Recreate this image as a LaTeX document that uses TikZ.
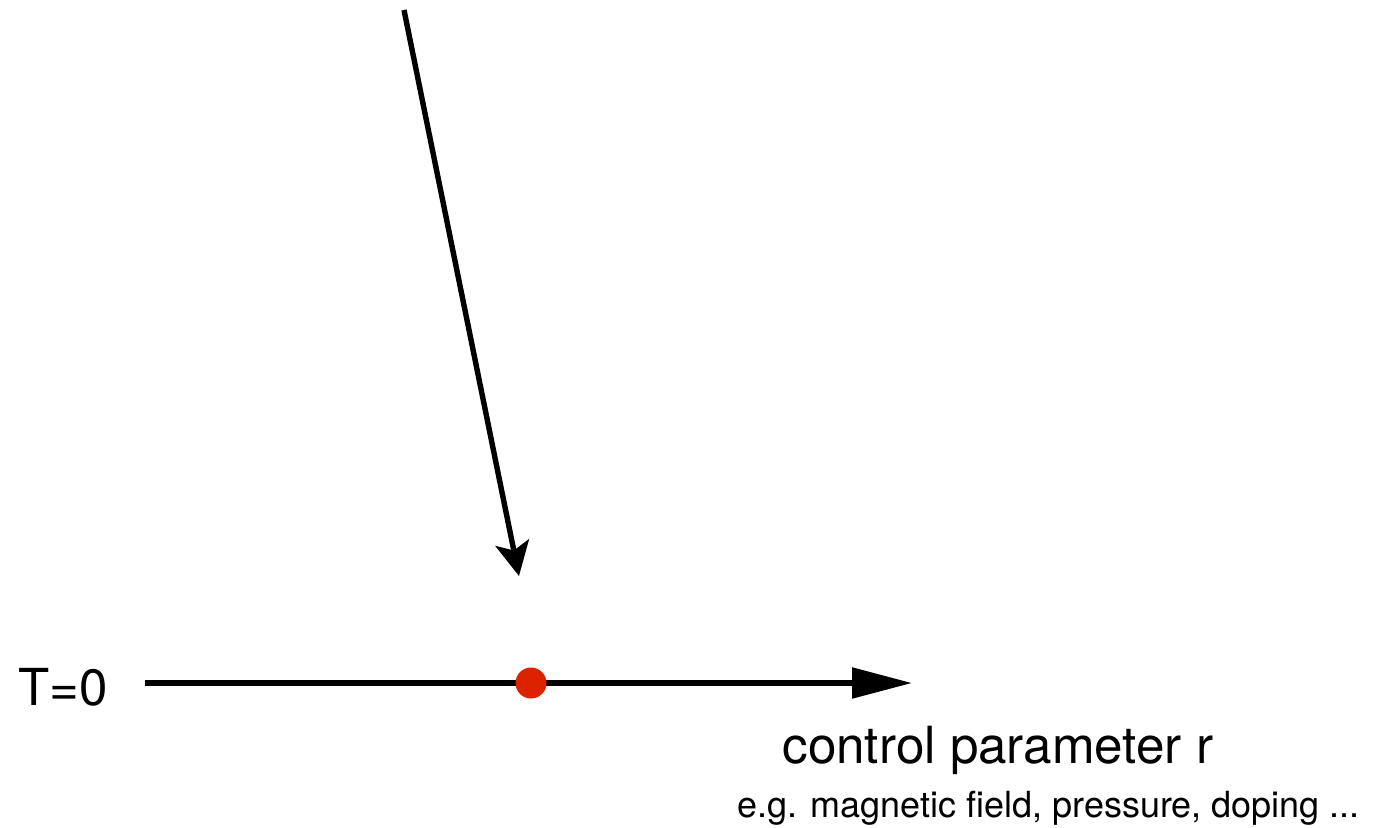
\documentclass[tikz,border=0pt]{standalone}
\usepackage{fontspec}
\setmainfont{TeX Gyre Heros}
\usetikzlibrary{arrows.meta}
\definecolor{dotred}{HTML}{DD2200}
\tikzset{
  axisline/.style={line width=2.7pt, line cap=butt},
  lbl/.style={inner sep=0pt, anchor=base west, text=black},
}
\begin{document}
\begin{tikzpicture}[x=0.5pt, y=-0.5pt]
\useasboundingbox (0,0) rectangle (1376,827);
% labels
\node[lbl, font=\fontsize{25.5pt}{28pt}\selectfont] (t0) at (18,705) {T=0};
\node[lbl, font=\fontsize{25.6pt}{28pt}\selectfont] (cp) at (782,763) {control parameter r};
\node[lbl, font=\fontsize{18pt}{20pt}\selectfont] (eg) at (737,817) {e.g. magnetic field, pressure, doping ...};
% axis
\coordinate (a0) at (145,683);
\coordinate (a1) at (912,683);
\draw[axisline, -{Triangle[length=30pt, width=15pt]}] (a0) -- (a1);
% diagonal arrow
\coordinate (d0) at (404,10);
\coordinate (d1) at (519,576);
\draw[axisline, -{Stealth[length=17pt, width=17pt, inset=4pt]}] (d0) -- (d1);
% critical point
\node[circle, fill=dotred, minimum size=15.5pt, inner sep=0pt] (qcp) at (531,683) {};
\end{tikzpicture}
\end{document}
